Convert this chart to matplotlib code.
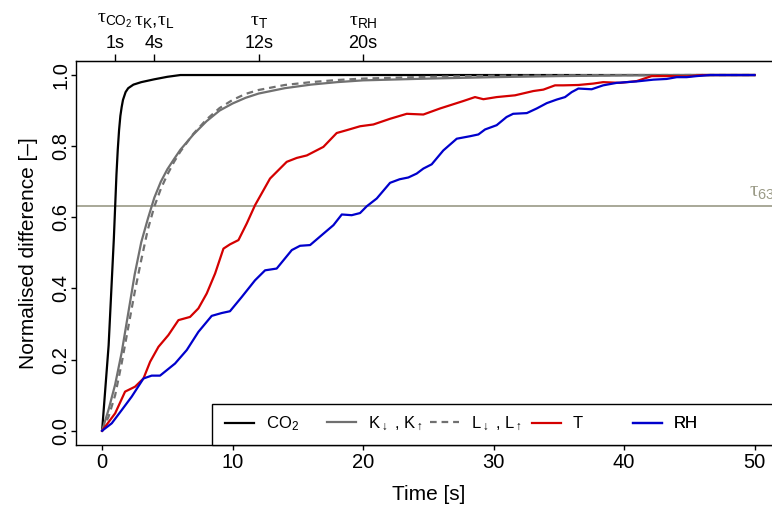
import numpy as np
import matplotlib
matplotlib.use('Agg')
from matplotlib import pyplot as plt
from matplotlib.patches import Rectangle

plt.rcParams['font.family'] = ['Liberation Sans', 'DejaVu Sans']
plt.rcParams['mathtext.fontset'] = 'custom'
plt.rcParams['mathtext.rm'] = 'Liberation Sans'
plt.rcParams['mathtext.it'] = 'Liberation Sans:italic'
plt.rcParams['mathtext.sf'] = 'Liberation Serif'

# values
t_co2 = [0, 0.5, 0.9, 1.0, 1.1, 1.2, 1.3, 1.4, 1.5, 1.6, 1.8, 2.0, 2.4, 3.0, 4.0, 5.0, 6.0, 50]
co2 = [0, 0.24, 0.54, 0.63, 0.72, 0.79, 0.845, 0.885, 0.91, 0.93, 0.952, 0.963, 0.973, 0.98,
       0.988, 0.995, 1.0, 1.0]

t_rad = [0, 0.5, 1, 1.5, 2, 2.5, 3, 3.5, 4, 4.5, 5, 5.5, 6, 7, 8, 9, 10, 11, 12, 14, 16, 18, 20,
         25, 30, 35, 40, 45, 50]
k_sw = [0, 0.06, 0.13, 0.22, 0.33, 0.44, 0.53, 0.595, 0.655, 0.70, 0.735, 0.763, 0.79, 0.833,
        0.87, 0.90, 0.92, 0.936, 0.948, 0.963, 0.973, 0.98, 0.985, 0.99, 0.994, 0.997, 0.999,
        1.0, 1.0]
l_lw = [0, 0.04, 0.10, 0.19, 0.29, 0.39, 0.48, 0.565, 0.63, 0.68, 0.72, 0.755, 0.785, 0.835,
        0.875, 0.907, 0.93, 0.947, 0.958, 0.972, 0.98, 0.986, 0.99, 0.995, 0.998, 0.999, 1.0,
        1.0, 1.0]

t_T = [0, 1.0, 1.76, 2.53, 3.17, 3.68, 4.32, 5.08, 5.85, 6.74, 7.38, 8.02, 8.66, 9.3, 9.8, 10.45,
       11.09, 11.72, 12.87, 14.15, 14.92, 15.69, 16.96, 17.98, 18.75, 19.77, 20.79, 22.07, 23.35,
       24.62, 25.9, 27.69, 28.58, 29.22, 30.24, 31.65, 33.05, 33.82, 34.71, 35.35, 36.5, 37.65,
       38.4, 39.7, 40.97, 42.12, 43.5, 44.8, 46, 50]
T = [0, 0.049, 0.11, 0.124, 0.147, 0.194, 0.236, 0.269, 0.311, 0.32, 0.344, 0.386, 0.442, 0.512,
     0.524, 0.536, 0.583, 0.634, 0.709, 0.756, 0.767, 0.774, 0.798, 0.837, 0.845, 0.856, 0.861,
     0.877, 0.891, 0.889, 0.906, 0.927, 0.938, 0.932, 0.938, 0.943, 0.955, 0.959, 0.971, 0.971,
     0.972, 0.976, 0.980, 0.978, 0.983, 0.997, 0.997, 0.996, 1.0, 1.0]

t_RH = [0, 0.74, 1.5, 2.27, 3.17, 3.8, 4.44, 5.59, 6.49, 7.38, 8.4, 9.17, 9.8, 10.7, 11.72, 12.49,
        13.38, 14.54, 15.17, 15.94, 16.96, 17.73, 18.37, 19.13, 19.77, 20.28, 21.05, 22.07, 22.8,
        23.47, 24.11, 24.62, 25.26, 26.15, 27.18, 28.2, 28.84, 29.35, 30.24, 31.0, 31.5, 32.55,
        33.31, 34.08, 34.84, 35.48, 35.99, 36.5, 37.52, 38.4, 39.44, 40.97, 42.25, 43.27, 44.04,
        44.8, 45.57, 46.6, 50]
RH = [0, 0.021, 0.058, 0.096, 0.147, 0.155, 0.155, 0.189, 0.227, 0.278, 0.323, 0.331, 0.336,
      0.376, 0.423, 0.451, 0.456, 0.508, 0.52, 0.522, 0.554, 0.578, 0.608, 0.606, 0.612, 0.631,
      0.653, 0.697, 0.707, 0.712, 0.723, 0.737, 0.749, 0.788, 0.821, 0.828, 0.833, 0.847, 0.859,
      0.882, 0.891, 0.893, 0.906, 0.921, 0.931, 0.938, 0.952, 0.962, 0.96, 0.971, 0.978, 0.982,
      0.987, 0.989, 0.994, 0.994, 0.997, 1.0, 1.0]

tau63 = 0.632
tau_ticks = [1, 4, 12, 20]
tau_secs = ['1s', '4s', '12s', '20s']
tau_names = [r'$\mathsf{\tau}_{\mathrm{CO_2}}$',
             r'$\mathsf{\tau}_{\mathrm{K}}$,$\mathsf{\tau}_{\mathrm{L}}$',
             r'$\mathsf{\tau}_{\mathrm{T}}$',
             r'$\mathsf{\tau}_{\mathrm{RH}}$']

labels = [r'CO$_2$', r'K$_{\downarrow}$ , K$_{\uparrow}$', r'L$_{\downarrow}$ , L$_{\uparrow}$', 'T', 'RH']

fig = plt.figure(figsize=(7.72, 5.09), dpi=100)
ax = fig.add_axes([0.09845, 0.12574, 0.91269, 0.75481])

tau_col = '#9a9a86'
ax.axhline(tau63, color=tau_col, lw=1.2, zorder=1)
ax.text(49.6, tau63 + 0.012, r'$\mathsf{\tau}_{\mathrm{63}}$', color=tau_col, fontsize=15,
        ha='left', va='bottom')

l1, = ax.plot(t_co2, co2, color='black', lw=1.6)
l2, = ax.plot(t_rad, k_sw, color='#707070', lw=1.6)
l3, = ax.plot(t_rad, l_lw, color='#707070', lw=1.6, dashes=(3, 2.2))
l4, = ax.plot(t_T, T, color='#d40000', lw=1.6)
l5, = ax.plot(t_RH, RH, color='#0000cc', lw=1.6)

ax.set_xlim(-2, 52)
ax.set_ylim(-0.04, 1.04)
ax.set_xticks([0, 10, 20, 30, 40, 50])
ax.set_yticks([0, 0.2, 0.4, 0.6, 0.8, 1.0])
ax.set_yticklabels(['0.0', '0.2', '0.4', '0.6', '0.8', '1.0'], rotation=90, va='center')
ax.tick_params(axis='both', labelsize=14.5, length=3.5, width=1, pad=2.5)
ax.tick_params(axis='y', pad=0.5)
for s in ax.spines.values():
    s.set_linewidth(1.0)

ax.set_xlabel('Time [s]', fontsize=15, labelpad=9)
ax.set_ylabel('Normalised difference [–]', fontsize=15, labelpad=10)

top = ax.secondary_xaxis('top')
top.set_xticks(tau_ticks, tau_secs)
top.tick_params(labelsize=13, length=5, width=1, pad=1.5)
for x, name in zip(tau_ticks, tau_names):
    ax.text(x, 1.103, name, transform=ax.get_xaxis_transform(), fontsize=14,
            ha='center', va='center')

# legend box along the bottom
ax.add_patch(Rectangle((0.193, 0), 0.85, 0.1067, transform=ax.transAxes, facecolor='white',
                       edgecolor='black', lw=1, clip_on=False, zorder=4))
leg_x = [0.2115, 0.3563, 0.5025, 0.6473, 0.7906]
handles = [l1, l2, l3, l4, l5]
for i in range(5):
    leg = ax.legend([handles[i]], [labels[i]], loc='center left', bbox_to_anchor=(leg_x[i], 0.0547),
                    frameon=False, borderpad=0, borderaxespad=0, handlelength=1.75,
                    handletextpad=0.7, fontsize=12)
    leg.set_zorder(5)
    ax.add_artist(leg)

fig.savefig('out.png', dpi=100)
